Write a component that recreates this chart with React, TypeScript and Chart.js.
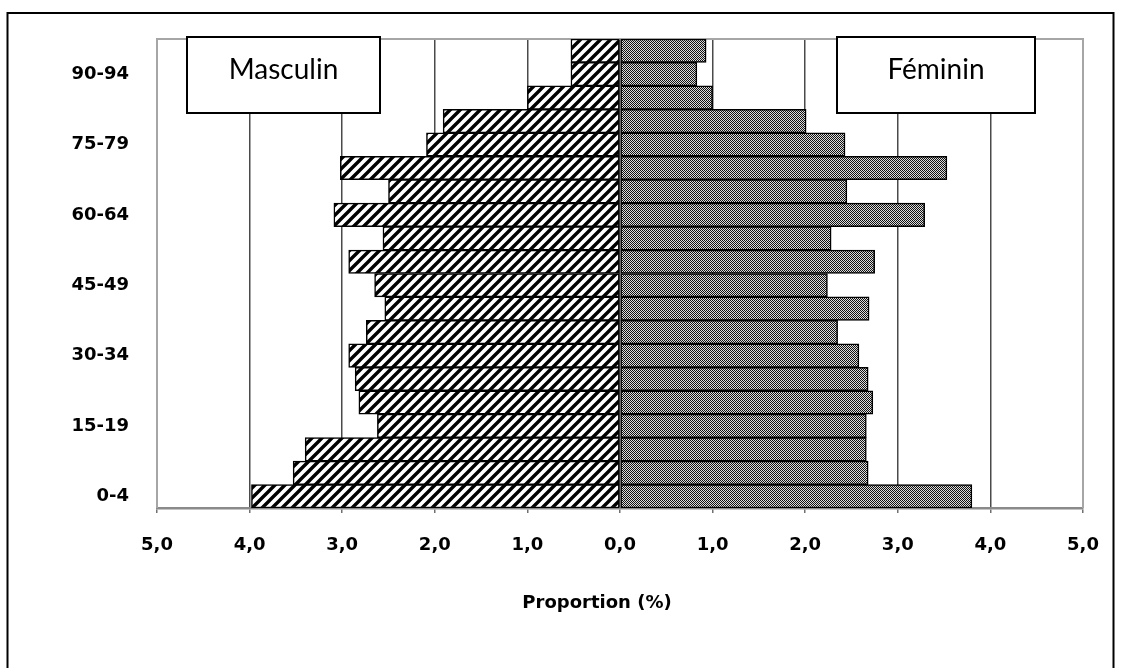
import React, { useEffect, useRef } from 'react';
import { Chart, registerables } from 'chart.js';

Chart.register(...registerables);

// Age groups, bottom (youngest) to top (oldest)
const ageGroups = [
  '0-4', '5-9', '10-14', '15-19', '20-24', '25-29', '30-34', '35-39', '40-44', '45-49',
  '50-54', '55-59', '60-64', '65-69', '70-74', '75-79', '80-84', '85-89', '90-94', '95+',
];

// Proportion (%) of the population, men
const masculin = [
  3.98, 3.53, 3.40, 2.62, 2.82, 2.86, 2.93, 2.74, 2.54, 2.65,
  2.93, 2.56, 3.09, 2.50, 3.02, 2.09, 1.91, 1.00, 0.53, 0.53,
];

// Proportion (%) of the population, women
const feminin = [
  3.80, 2.68, 2.66, 2.66, 2.73, 2.68, 2.58, 2.35, 2.69, 2.24,
  2.75, 2.28, 3.29, 2.45, 3.53, 2.43, 2.01, 1.00, 0.83, 0.93,
];

// Age-group labels shown on the vertical axis
const shownAgeLabels = ['0-4', '15-19', '30-34', '45-49', '60-64', '75-79', '90-94'];

// Horizontal axis range
const xMin = -5;
const xMax = 5;

const legendMasculin = 'Masculin';
const legendFeminin = 'Féminin';
const xAxisTitle = 'Proportion (%)';

const W = 1123;
const H = 668;

function makeHatch(): CanvasPattern | string {
  const s = 10;
  const c = document.createElement('canvas');
  c.width = s;
  c.height = s;
  const g = c.getContext('2d');
  if (!g) return '#fff';
  g.fillStyle = '#ffffff';
  g.fillRect(0, 0, s, s);
  g.strokeStyle = '#000000';
  g.lineWidth = 3.4;
  g.beginPath();
  g.moveTo(0, s);
  g.lineTo(s, 0);
  g.moveTo(-2, 2);
  g.lineTo(2, -2);
  g.moveTo(s - 2, s + 2);
  g.lineTo(s + 2, s - 2);
  g.stroke();
  const p = g.createPattern(c, 'repeat');
  return p || '#fff';
}

function makeChecker(): CanvasPattern | string {
  const c = document.createElement('canvas');
  c.width = 2;
  c.height = 2;
  const g = c.getContext('2d');
  if (!g) return '#888';
  g.fillStyle = '#dcdcdc';
  g.fillRect(0, 0, 2, 2);
  g.fillStyle = '#111111';
  g.fillRect(0, 0, 1, 1);
  g.fillRect(1, 1, 1, 1);
  const p = g.createPattern(c, 'repeat');
  return p || '#888';
}

const decorPlugin = {
  id: 'decor',
  beforeDraw(chart: any) {
    const ctx = chart.ctx;
    ctx.save();
    ctx.fillStyle = '#ffffff';
    ctx.fillRect(0, 0, chart.width, chart.height);
    ctx.strokeStyle = '#000000';
    ctx.lineWidth = 2;
    ctx.strokeRect(7.5, 13, 1106, 700);
    ctx.restore();
  },
  beforeDatasetsDraw(chart: any) {
    const { ctx, chartArea } = chart;
    ctx.save();
    ctx.strokeStyle = '#a6a6a6';
    ctx.lineWidth = 2;
    ctx.beginPath();
    ctx.moveTo(chartArea.left, chartArea.bottom);
    ctx.lineTo(chartArea.left, chartArea.top);
    ctx.lineTo(chartArea.right, chartArea.top);
    ctx.lineTo(chartArea.right, chartArea.bottom);
    ctx.stroke();
    ctx.restore();
  },
  afterDraw(chart: any) {
    const { ctx, chartArea } = chart;
    const top = chartArea.top - 2;
    const h = 76;
    const boxes = [
      { x: chartArea.left + 30, w: 193, text: legendMasculin },
      { x: chartArea.left + 680, w: 198, text: legendFeminin },
    ];
    ctx.save();
    for (const b of boxes) {
      ctx.fillStyle = '#ffffff';
      ctx.fillRect(b.x, top, b.w, h);
      ctx.strokeStyle = '#000000';
      ctx.lineWidth = 2;
      ctx.strokeRect(b.x, top, b.w, h);
      ctx.fillStyle = '#000000';
      ctx.font = '28px Lato, "Open Sans", sans-serif';
      ctx.textAlign = 'center';
      ctx.textBaseline = 'alphabetic';
      ctx.fillText(b.text, b.x + b.w / 2, top + 42);
    }
    // axis title (placed slightly left of centre, as in the original)
    ctx.font = 'bold 18px "DejaVu Sans", sans-serif';
    ctx.textAlign = 'center';
    ctx.textBaseline = 'middle';
    ctx.fillText(xAxisTitle, (chartArea.left + chartArea.right) / 2 - 23, chartArea.bottom + 95);
    ctx.restore();
  },
};

function fmt(v: number): string {
  return Math.abs(v).toFixed(1).replace('.', ',');
}

export default function App() {
  const ref = useRef<HTMLCanvasElement | null>(null);

  useEffect(() => {
    if (!ref.current) return;
    const hatch = makeHatch();
    const checker = makeChecker();
    const tickFont = { family: '"DejaVu Sans", sans-serif', size: 18, weight: 'bold' as const };

    const chart = new Chart(ref.current, {
      type: 'bar',
      data: {
        labels: ageGroups,
        datasets: [
          {
            label: legendMasculin,
            data: masculin.map((v) => -v),
            backgroundColor: hatch as any,
            borderColor: '#000000',
            borderWidth: 1.5,
            borderSkipped: false,
            barPercentage: 1,
            categoryPercentage: 1,
          },
          {
            label: legendFeminin,
            data: feminin.slice(),
            backgroundColor: checker as any,
            borderColor: '#000000',
            borderWidth: 1.5,
            borderSkipped: false,
            barPercentage: 1,
            categoryPercentage: 1,
          },
        ],
      },
      options: {
        indexAxis: 'y',
        responsive: false,
        animation: false,
        layout: { padding: { left: 0, right: 40, top: 39, bottom: 0 } },
        plugins: {
          legend: { display: false },
          tooltip: { enabled: false },
          title: { display: false },
        },
        scales: {
          x: {
            type: 'linear',
            min: xMin,
            max: xMax,
            stacked: true,
            afterFit(scale: any) {
              scale.height = 160;
            },
            ticks: {
              stepSize: 1,
              color: '#000000',
              font: tickFont,
              padding: 22,
              callback: (v: any) => fmt(Number(v)),
            },
            grid: {
              color: (c: any) =>
                c.tick && (c.tick.value === xMin || c.tick.value === xMax) ? '#a6a6a6' : '#4a4a4a',
              lineWidth: 1.5,
              drawTicks: true,
              tickLength: 5,
              tickColor: '#707070',
            },
            border: { display: true, color: '#8a8a8a', width: 2.5 },
            title: { display: false },
          },
          y: {
            type: 'category',
            stacked: true,
            reverse: true,
            afterFit(scale: any) {
              scale.width = 157;
            },
            ticks: {
              autoSkip: false,
              color: '#000000',
              font: tickFont,
              padding: 28,
              callback: function (this: any, v: any) {
                const lbl = ageGroups[Number(v)];
                return shownAgeLabels.includes(lbl) ? lbl : '';
              },
            },
            grid: { display: false, drawTicks: false },
            border: { display: false },
          },
        },
      },
      plugins: [decorPlugin],
    } as any);

    return () => chart.destroy();
  }, []);

  return (
    <div style={{ position: 'absolute', left: 0, top: 0, width: W, height: H, background: '#fff' }}>
      <canvas ref={ref} width={W} height={H} />
    </div>
  );
}
